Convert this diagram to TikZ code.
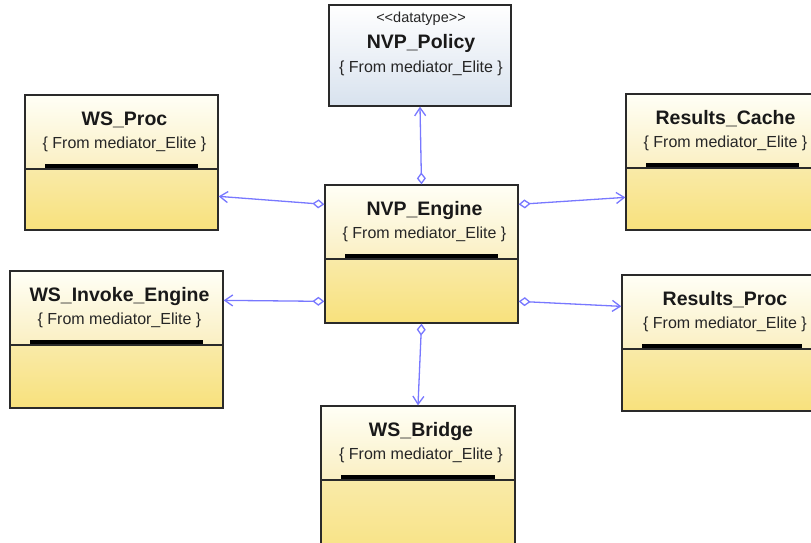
\documentclass[tikz,border=0pt]{standalone}
\usepackage{fontspec}
\setmainfont{Liberation Sans}
\usetikzlibrary{arrows.meta,calc,fit}
\definecolor{topA}{HTML}{FFFFF6}
\definecolor{topB}{HTML}{FAEFC2}
\definecolor{botA}{HTML}{F9EAA8}
\definecolor{botB}{HTML}{F8E17C}
\definecolor{polA}{HTML}{FFFFFF}
\definecolor{polB}{HTML}{D8E2EE}
\definecolor{frame}{HTML}{2A2A2A}
\definecolor{linkblue}{HTML}{7878FF}
\tikzset{
 frm/.style={draw=frame, line width=1.3pt, inner sep=0pt},
 ttl/.style={font=\fontsize{19.5}{22}\selectfont\bfseries, anchor=base, inner sep=0pt, text=black!90},
 sub/.style={font=\fontsize{16}{18}\selectfont, anchor=base, inner sep=0pt, text=black!85},
 stereo/.style={font=\fontsize{14.5}{16}\selectfont, anchor=base, inner sep=0pt, text=black!85},
 assoc/.style={draw=linkblue, line width=1.3pt, {Diamond[fill=white,length=12pt,width=9pt]}-{Straight Barb[length=8pt,width=11pt]}},
}
\newcommand\clsbox[6]{%
 \shade[top color=topA, bottom color=topB] (#2,#3) rectangle (#4,{#3+74});
 \shade[top color=botA, bottom color=botB] (#2,{#3+74}) rectangle (#4,#5);
 \fill[black] ({#2+20},{#3+69}) rectangle ({#4-20},{#3+74});
 \draw[frame, line width=1.5pt] (#2,{#3+74}) -- (#4,{#3+74});
 \node[frm, fit={(#2,#3) (#4,#5)}] (#1) {};
 \node[ttl] (#1t) at ({(#2+#4)/2+3},{#3+30}) {#6};
 \node[sub] (#1s) at ({(#2+#4)/2+3},{#3+53}) {\{ From mediator\_Elite \}};
}
\begin{document}
\begin{tikzpicture}[x=1pt,y=-1pt]
\useasboundingbox (0,0) rectangle (811,542);
\clip (0,0) rectangle (811,542);
\fill[white] (0,0) rectangle (811,542);
% NVP_Policy
\shade[top color=polA, bottom color=polB] (329,5) rectangle (511,106);
\node[frm, fit={(329,5) (511,106)}] (pol) {};
\node[stereo] (polst) at (421,22) {<\kern0pt<datatype>\kern0pt>};
\node[ttl] (polt) at (421,48) {NVP\_Policy};
\node[sub] (pols) at (421,72.5) {\{ From mediator\_Elite \}};
% classes
\clsbox{proc}{25}{95}{218}{230}{WS\_Proc}
\clsbox{eng}{325}{185}{518}{323}{NVP\_Engine}
\clsbox{cache}{626}{94}{819}{230}{Results\_Cache}
\clsbox{inv}{10}{271}{223}{408}{WS\_Invoke\_Engine}
\clsbox{rproc}{622}{275}{822}{411}{Results\_Proc}
\clsbox{bri}{321}{406}{515}{570}{WS\_Bridge}
% connectors
\draw[assoc] (eng.north) -- (pol.south);
\draw[assoc] ($(eng.north west)+(0,20)$) -- ($(proc.north east)+(0,102)$);
\draw[assoc] ($(eng.north east)+(0,20)$) -- ($(cache.north west)+(0,104)$);
\draw[assoc] ($(eng.north west)+(0,117)$) -- ($(inv.north east)+(0,30)$);
\draw[assoc] ($(eng.north east)+(0,117)$) -- ($(rproc.north west)+(0,32)$);
\draw[assoc] (eng.south) -- (bri.north);
\end{tikzpicture}
\end{document}
